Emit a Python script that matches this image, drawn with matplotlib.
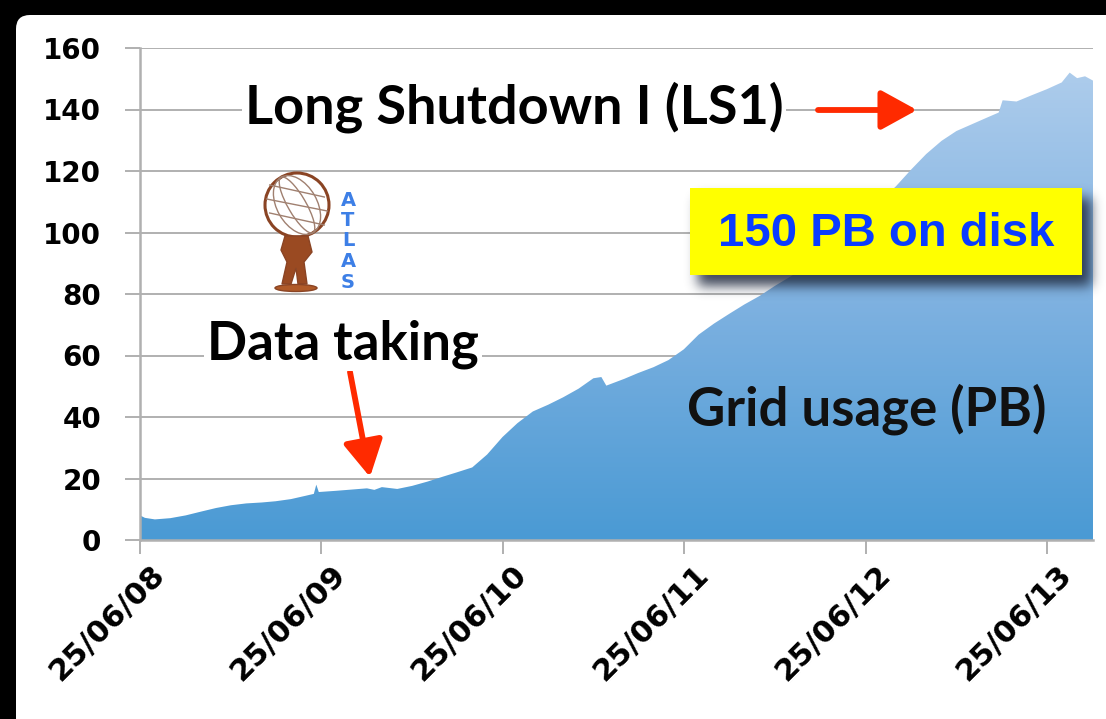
import matplotlib
matplotlib.use("Agg")
import matplotlib.pyplot as plt
import matplotlib.dates as mdates
import matplotlib.transforms as mtransforms
import numpy as np
from matplotlib.patches import FancyBboxPatch, Rectangle, Circle, Ellipse, Polygon, FancyArrowPatch
from matplotlib.colors import LinearSegmentedColormap

# ATLAS grid disk usage (PB)
dates = ["2008-06-25", "2008-07-05", "2008-07-25", "2008-08-25", "2008-09-25",
         "2008-10-25", "2008-11-25", "2008-12-25", "2009-01-25", "2009-02-25",
         "2009-03-25", "2009-04-25", "2009-05-25", "2009-06-10", "2009-06-15",
         "2009-06-20", "2009-07-25", "2009-08-25", "2009-09-25", "2009-10-10",
         "2009-10-25", "2009-11-25", "2009-12-25", "2010-01-25", "2010-02-25",
         "2010-03-25", "2010-04-25", "2010-05-25", "2010-06-25", "2010-07-25",
         "2010-08-25", "2010-09-25", "2010-10-25", "2010-11-25", "2010-12-25",
         "2011-01-10", "2011-01-20", "2011-02-25", "2011-03-25", "2011-04-25",
         "2011-05-25", "2011-06-25", "2011-07-25", "2011-08-25", "2011-09-25",
         "2011-10-25", "2011-11-25", "2011-12-25", "2012-01-25", "2012-02-25",
         "2012-03-25", "2012-04-25", "2012-05-25", "2012-06-25", "2012-07-25",
         "2012-08-25", "2012-09-25", "2012-10-25", "2012-11-25", "2012-12-25",
         "2013-01-25", "2013-02-25", "2013-03-20", "2013-03-28", "2013-04-25",
         "2013-05-25", "2013-06-25", "2013-07-25", "2013-08-10", "2013-08-25",
         "2013-09-10", "2013-09-26"]
usage_pb = [8.0, 7.2, 6.7, 7.1, 8.0,
            9.2, 10.4, 11.3, 11.9, 12.2,
            12.6, 13.3, 14.4, 15.0, 18.0,
            15.6, 16.0, 16.4, 16.8, 16.3,
            17.2, 16.6, 17.6, 19.0, 20.6,
            22.0, 23.6, 27.8, 33.5, 38.0,
            41.8, 44.0, 46.4, 49.2, 52.6,
            53.0, 50.2, 52.4, 54.3, 56.2,
            58.5, 62.0, 66.8, 70.4, 73.6,
            76.6, 79.4, 82.6, 85.6, 88.8,
            93.0, 97.8, 102.0, 106.2, 110.4,
            115.0, 120.5, 125.5, 129.8, 133.0,
            135.2, 137.4, 139.0, 143.0, 142.6,
            144.6, 146.6, 148.8, 152.0, 150.2,
            150.8, 149.4]

tick_dates = ["2008-06-25", "2009-06-25", "2010-06-25",
              "2011-06-25", "2012-06-25", "2013-06-25"]
y_ticks = [0, 20, 40, 60, 80, 100, 120, 140, 160]

W, H = 1106, 719
fig = plt.figure(figsize=(W / 100, H / 100), dpi=100, facecolor="black")

# white slide panel behind everything
bg = fig.add_axes([0, 0, 1, 1], zorder=0)
bg.set_xlim(0, W)
bg.set_ylim(H, 0)
bg.axis("off")
bg.add_patch(FancyBboxPatch((16, 15), W + 40, H + 40,
                            boxstyle="round,pad=0,rounding_size=14",
                            facecolor="white", edgecolor="none"))

x = mdates.datestr2num(dates)
y = np.array(usage_pb)

ax = fig.add_axes([140 / W, 1 - 540 / H, (1093 - 140) / W, (540 - 48) / H], zorder=1)
ax.set_facecolor("none")
x0 = mdates.datestr2num("2008-06-25")
x1 = mdates.datestr2num("2013-09-26")
ax.set_xlim(x0, x1)
ax.set_ylim(0, 160)

# vertical gradient clipped to the area under the curve
cmap = LinearSegmentedColormap.from_list("grid", ["#4a9ad4", "#80b2e1", "#b2cfed"])
grad = np.linspace(0, 1, 256).reshape(-1, 1)
poly = ax.fill_between(x, 0, y, facecolor="none", edgecolor="none")
img = ax.imshow(grad, cmap=cmap, aspect="auto", origin="lower",
                extent=[x0, x1, 0, 160], zorder=2)
img.set_clip_path(poly.get_paths()[0], transform=ax.transData)

ax.set_yticks(y_ticks)
ax.yaxis.grid(True, color="#b0b0b0", linewidth=1.4)
ax.set_axisbelow(True)
ax.set_xticks(mdates.datestr2num(tick_dates))
ax.xaxis.set_major_formatter(mdates.DateFormatter("%d/%m/%y"))

for side in ["top", "right"]:
    ax.spines[side].set_visible(False)
for side in ["left", "bottom"]:
    ax.spines[side].set_color("#b0b0b0")
    ax.spines[side].set_linewidth(1.8)
ax.spines["left"].set_zorder(3)

ax.tick_params(axis="y", length=11, width=1.4, color="#b0b0b0", pad=17,
               labelsize=20)
ax.tick_params(axis="x", length=10, width=1.4, color="#b0b0b0", pad=4,
               labelsize=22)
for lab in ax.get_yticklabels():
    lab.set_fontweight("bold")
shift = mtransforms.ScaledTranslation(10 / 100, 0 / 100, fig.dpi_scale_trans)
for lab in ax.get_xticklabels():
    lab.set_fontweight("bold")
    lab.set_rotation(45)
    lab.set_ha("right")
    lab.set_rotation_mode("anchor")
    lab.set_transform(lab.get_transform() + shift)

# annotations, logo and call-out box in slide pixels
ov = fig.add_axes([0, 0, 1, 1], zorder=4)
ov.set_xlim(0, W)
ov.set_ylim(H, 0)
ov.axis("off")
ov.patch.set_alpha(0)

label_font = ["Lato", "DejaVu Sans"]
ov.text(514, 107, "Long Shutdown I (LS1)", fontsize=39, fontweight="bold",
        family=label_font, ha="center", va="center",
        bbox=dict(facecolor="white", edgecolor="none", pad=2))
ov.text(343, 344, "Data taking", fontsize=38, fontweight="bold",
        family=label_font, ha="center", va="center",
        bbox=dict(facecolor="white", edgecolor="none", pad=2))
ov.text(867, 409, "Grid usage (PB)", fontsize=38, fontweight="bold",
        family=label_font, ha="center", va="center", color="#111111")

red = "#ff2a00"
arrow_style = "-|>,head_length=10,head_width=5.5"
ov.add_patch(FancyArrowPatch((818, 110), (917, 110), arrowstyle=arrow_style,
                             mutation_scale=2.2, color=red, linewidth=4.2,
                             shrinkA=0, shrinkB=0))
ov.add_patch(FancyArrowPatch((350, 372), (370, 477), arrowstyle=arrow_style,
                             mutation_scale=2.2, color=red, linewidth=4.2,
                             shrinkA=0, shrinkB=0))

# soft drop shadow under the call-out box
bx, by, bw, bh = 690, 188, 392, 87
yy, xx = np.mgrid[0:H, 0:W]
mask = ((xx >= bx + 8) & (xx <= bx + bw + 8) & (yy >= by + 10) & (yy <= by + bh + 10)).astype(float)
k = np.exp(-0.5 * (np.arange(-18, 19) / 6.0) ** 2)
k /= k.sum()
mask = np.apply_along_axis(lambda r: np.convolve(r, k, mode="same"), 1, mask)
mask = np.apply_along_axis(lambda c: np.convolve(c, k, mode="same"), 0, mask)
shadow = np.zeros((H, W, 4))
shadow[..., 0] = 0.12
shadow[..., 1] = 0.16
shadow[..., 2] = 0.24
shadow[..., 3] = mask * 0.85
ov.imshow(shadow, extent=[0, W, H, 0], zorder=1, interpolation="bilinear")
ov.set_xlim(0, W)
ov.set_ylim(H, 0)
ov.add_patch(Rectangle((bx, by), bw, bh, facecolor="#ffff00", edgecolor="none", zorder=2))
ov.text(bx + bw / 2, by + bh / 2 + 2, "150 PB on disk", fontsize=34, fontweight="bold",
        family=["Liberation Sans", "DejaVu Sans"], color="#0a3cff",
        ha="center", va="center", zorder=3)

# ATLAS logo: globe carried by a figure, vertical lettering
brown = "#8a4424"
ov.add_patch(Circle((297, 205), 32, facecolor="white", edgecolor=brown, linewidth=2.2, zorder=2))
for w in [18, 40]:
    ov.add_patch(Ellipse((297, 205), w, 64, angle=-30, facecolor="none",
                         edgecolor="#a08070", linewidth=1.0, zorder=2))
for dy in [-14, 0, 14]:
    half = np.sqrt(32 ** 2 - dy ** 2)
    ov.plot([297 - half * 0.95, 297 + half * 0.95], [205 + dy - 6, 205 + dy + 6],
            color="#a08070", linewidth=1.0, zorder=2)
ov.add_patch(Polygon([[285, 236], [308, 236], [312, 252], [304, 262], [307, 284],
                      [298, 284], [296, 268], [291, 284], [282, 284], [287, 262],
                      [281, 250]], closed=True, facecolor="#9a4a22", edgecolor=brown,
                     linewidth=1, zorder=2))
ov.add_patch(Ellipse((296, 288), 42, 7, facecolor="#b05a28", edgecolor=brown, zorder=2))
for i, ch in enumerate("ATLAS"):
    ov.text(348, 200 + i * 20.5, ch, fontsize=14, fontweight="bold", color="#3d7fe6",
            family="DejaVu Sans", ha="center", va="center", zorder=3)

fig.savefig("out.png", dpi=100, facecolor="black")
